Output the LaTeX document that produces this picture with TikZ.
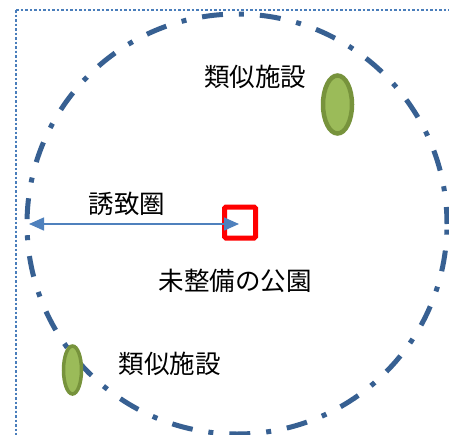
\documentclass[tikz,border=0pt]{standalone}
\usepackage{fontspec}
\newfontfamily\jp{Noto Sans CJK JP}
\usetikzlibrary{arrows.meta,shapes.geometric}
\definecolor{ringblue}{HTML}{376092}
\definecolor{framebl}{HTML}{4A7EBB}
\definecolor{arrowbl}{HTML}{4F81BD}
\definecolor{olivedk}{HTML}{77933C}
\definecolor{olivelt}{HTML}{9BBB59}
\tikzset{
  lbl/.style={font=\jp\fontsize{25.5}{28}\selectfont, text=black, inner sep=0pt},
  facility/.style={ellipse, draw=olivedk, fill=olivelt, inner sep=0pt},
}
\begin{document}
\begin{tikzpicture}[x=1pt,y=-1pt]
\useasboundingbox (0,0) rectangle (449,434);
\clip (0,0) rectangle (449,434);
\fill[white] (0,0) rectangle (449,434);
% dotted frame
\draw[framebl, line width=2.5pt, dash pattern=on 2.5pt off 2pt] (16,10) -- (16,460) (16,10) -- (470,10);
% catchment circle
\node[circle, draw=ringblue, line width=5pt, minimum size=420pt, inner sep=0pt,
      dash pattern=on 21pt off 16pt on 5pt off 16pt, dash phase=4pt] (area) at (237,224) {};
% facilities
\node[facility, line width=4.5pt, minimum width=29pt, minimum height=58pt] (fac1) at (337.5,104.5) {};
\node[facility, line width=3.5pt, minimum width=18pt, minimum height=48pt] (fac2) at (72.5,370) {};
% park
\node[draw=red, line width=5pt, minimum width=31pt, minimum height=31pt, inner sep=0pt, rounded corners=1.5pt] (park) at (240,222.5) {};
% labels
\node[lbl] (t1) at (255,77) {類似施設};
\node[lbl] (t2) at (127,204) {誘致圏};
\node[lbl] (t3) at (235,281) {未整備の公園};
\node[lbl] (t4) at (169.5,364) {類似施設};
% arrow
\coordinate (L) at (29,224);
\coordinate (R) at (239,224);
\draw[arrowbl, line width=1.5pt, {Triangle[length=15pt,width=13pt]}-{Triangle[length=15pt,width=13pt]}] (L) -- (R);
\end{tikzpicture}
\end{document}
